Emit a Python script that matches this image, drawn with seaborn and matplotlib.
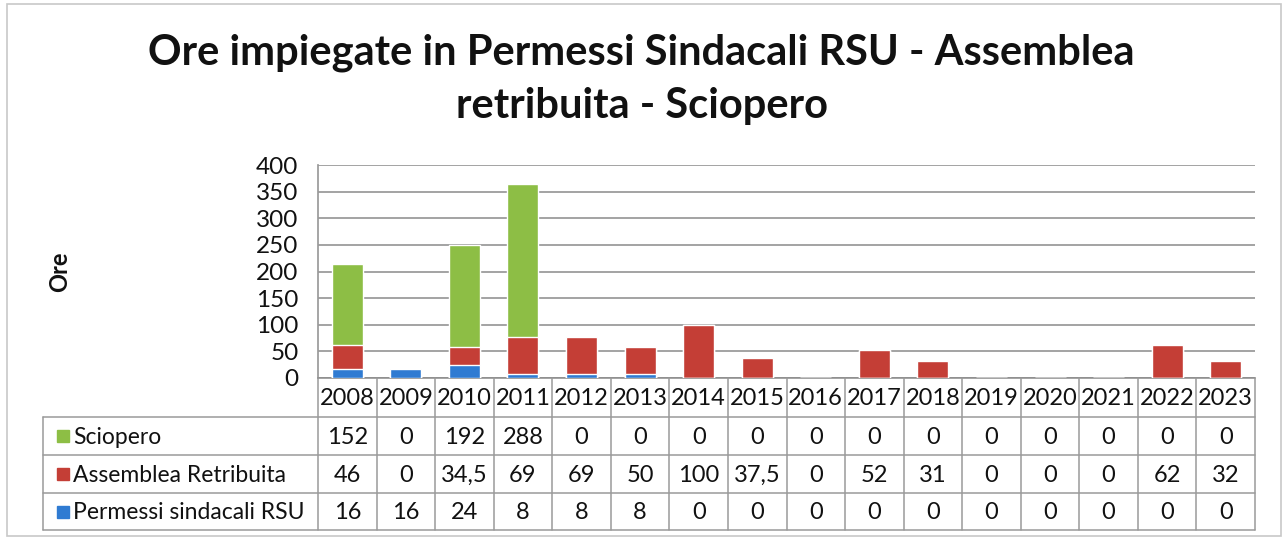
import matplotlib
matplotlib.use('Agg')
import matplotlib.pyplot as plt
import seaborn as sns
import numpy as np
import pandas as pd

# ─── Data ────────────────────────────────────────────────────────────────────
anni = ['2008', '2009', '2010', '2011', '2012', '2013', '2014', '2015',
        '2016', '2017', '2018', '2019', '2020', '2021', '2022', '2023']
sciopero  = [152, 0, 192, 288, 0, 0, 0, 0, 0, 0, 0, 0, 0, 0, 0, 0]
assemblea = [46, 0, 34.5, 69, 69, 50, 100, 37.5, 0, 52, 31, 0, 0, 0, 62, 32]
permessi  = [16, 16, 24, 8, 8, 8, 0, 0, 0, 0, 0, 0, 0, 0, 0, 0]

serie_nomi = ['Sciopero', 'Assemblea Retribuita', 'Permessi sindacali RSU']
colori = {'Sciopero': '#8DBE45', 'Assemblea Retribuita': '#C43E36',
          'Permessi sindacali RSU': '#2F7BD2'}

titolo = 'Ore impiegate in Permessi Sindacali RSU - Assemblea\nretribuita - Sciopero'

# ─── Style ───────────────────────────────────────────────────────────────────
sns.set_theme(style='white')
plt.rcParams['font.family'] = ['Lato', 'DejaVu Sans']

W, H = 1283, 538
fig = plt.figure(figsize=(W / 100, H / 100), dpi=100)

# plot area in pixels
PX_L, PX_R, PX_T, PX_B = 318, 1255, 165, 378
ax = fig.add_axes([PX_L / W, 1 - PX_B / H, (PX_R - PX_L) / W, (PX_B - PX_T) / H])

df = pd.DataFrame({'anno': anni, 'sc': sciopero, 'as': assemblea, 'pe': permessi})
df['tot3'] = df['sc'] + df['as'] + df['pe']
df['tot2'] = df['as'] + df['pe']

# stacked bars: cumulative totals drawn largest first
for col, nome in [('tot3', 'Sciopero'), ('tot2', 'Assemblea Retribuita'),
                  ('pe', 'Permessi sindacali RSU')]:
    sns.barplot(data=df, x='anno', y=col, color=colori[nome], saturation=1,
                width=0.53, ax=ax, zorder=3)

ax.set_ylim(0, 400)
ax.set_xlim(-0.5, len(anni) - 0.5)
ax.set_yticks(np.arange(0, 401, 50))
ax.tick_params(axis='y', labelsize=17.5, pad=14, length=0, colors='#111111')
ax.set_xticks([])
ax.set_xlabel('')
ax.set_ylabel('')
ax.yaxis.grid(True, color='#8a8a8a', linewidth=1.1)
for s in ['top', 'right']:
    ax.spines[s].set_visible(False)
ax.spines['left'].set_color('#9a9a9a')
ax.spines['bottom'].set_color('#8a8a8a')
ax.spines['bottom'].set_linewidth(1.1)

fig.text(60 / W, 1 - 272 / H, 'Ore', rotation=90, ha='center', va='center',
         fontsize=17, fontweight='bold', color='#111111')

fig.text(0.5, 1 - 79 / H, titolo, ha='center', va='center', fontsize=30,
         fontweight='bold', color='#111111', linespacing=1.48)

# ─── Data table ──────────────────────────────────────────────────────────────
TB_L, TB_B = 43, 530
tax = fig.add_axes([TB_L / W, 1 - TB_B / H, (PX_R - TB_L) / W, (TB_B - PX_B) / H])
unit = (PX_R - PX_L) / len(anni)
x_left = -0.5 - (PX_L - TB_L) / unit
tax.set_xlim(x_left, len(anni) - 0.5)
tax.set_ylim(TB_B, PX_B)
tax.axis('off')

line_kw = dict(color='#9a9a9a', linewidth=1.1, clip_on=False)
row_edges = [PX_B, 417, 455, 493, TB_B]

# header with years
for i, a in enumerate(anni):
    tax.text(i, (row_edges[0] + row_edges[1]) / 2 + 1, a, ha='center', va='center',
             fontsize=17, color='#111111')
for i in range(len(anni) + 1):
    tax.plot([i - 0.5, i - 0.5], [row_edges[0], TB_B], **line_kw)

# body grid
for y in row_edges[1:]:
    tax.plot([x_left, len(anni) - 0.5], [y, y], **line_kw)
tax.plot([x_left, x_left], [row_edges[1], TB_B], **line_kw)


def fmt(v):
    return str(int(v)) if float(v).is_integer() else str(v).replace('.', ',')


valori = [sciopero, assemblea, permessi]
for r, (nome, vals) in enumerate(zip(serie_nomi, valori)):
    yc = (row_edges[r + 1] + row_edges[r + 2]) / 2
    tax.plot(x_left + 20 / unit, yc, marker='s', markersize=8,
             color=colori[nome], clip_on=False)
    tax.text(x_left + 30 / unit, yc + 1, nome, ha='left', va='center',
             fontsize=16.5, color='#111111')
    for i, v in enumerate(vals):
        tax.text(i, yc + 1, fmt(v), ha='center', va='center',
                 fontsize=17, color='#111111')

# chart border
border = plt.Rectangle((7 / W, 1 - 536 / H), (1281 - 7) / W, (536 - 4) / H,
                       transform=fig.transFigure, fill=False,
                       edgecolor='#c8c8c8', linewidth=1.2)
fig.patches.append(border)

fig.savefig('out.png', dpi=100)
